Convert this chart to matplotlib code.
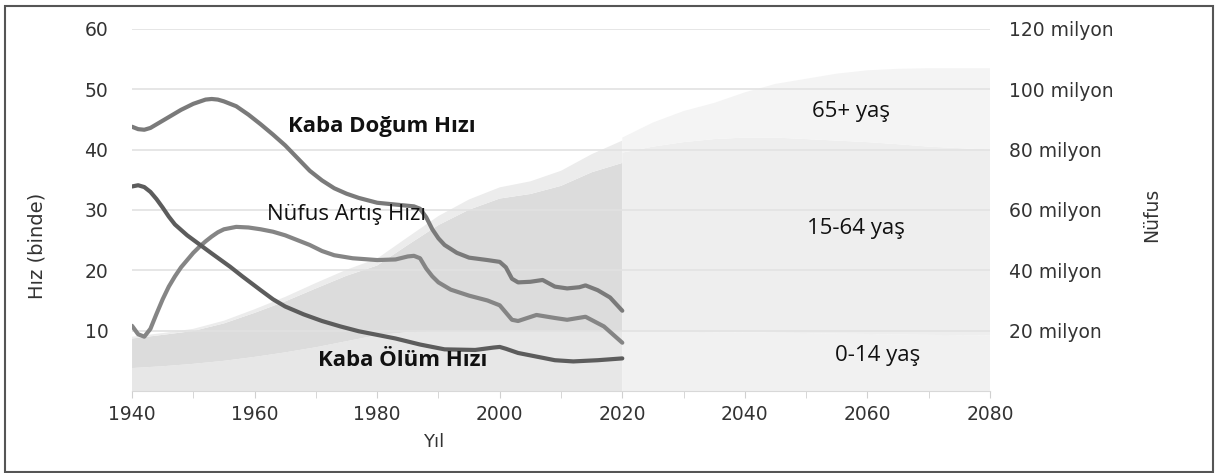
import numpy as np
import matplotlib
matplotlib.use("Agg")
import matplotlib.pyplot as plt
from matplotlib.patches import Rectangle

# --- rates (per thousand) ---
birth_years = [1940, 1941, 1942, 1943, 1944, 1946, 1948, 1950, 1952, 1953, 1954, 1955, 1957,
               1959, 1961, 1963, 1965, 1967, 1969, 1971, 1973, 1975, 1977, 1980, 1983, 1986,
               1987, 1988, 1989, 1990, 1991, 1993, 1995, 1998, 2000, 2001, 2002, 2003, 2005,
               2007, 2009, 2011, 2013, 2014, 2016, 2018, 2020]
birth_rate = [43.8, 43.4, 43.3, 43.6, 44.2, 45.4, 46.6, 47.6, 48.3, 48.4, 48.3, 48.0, 47.2,
              45.8, 44.2, 42.5, 40.7, 38.6, 36.5, 34.9, 33.6, 32.7, 32.0, 31.2, 30.9, 30.6,
              30.2, 28.8, 26.8, 25.3, 24.2, 22.9, 22.1, 21.7, 21.4, 20.5, 18.6, 18.0, 18.1,
              18.4, 17.3, 17.0, 17.2, 17.5, 16.7, 15.5, 13.3]

growth_years = [1940, 1941, 1942, 1943, 1944, 1945, 1946, 1947, 1948, 1949, 1950, 1951, 1952,
                1953, 1954, 1955, 1957, 1959, 1961, 1963, 1965, 1967, 1969, 1971, 1973, 1976,
                1980, 1983, 1985, 1986, 1987, 1988, 1989, 1990, 1992, 1995, 1998, 2000, 2001,
                2002, 2003, 2006, 2009, 2011, 2014, 2017, 2020]
growth_rate = [10.8, 9.4, 9.0, 10.3, 12.8, 15.2, 17.3, 19.0, 20.5, 21.7, 22.9, 23.9, 24.8,
               25.6, 26.3, 26.8, 27.2, 27.1, 26.8, 26.4, 25.8, 25.0, 24.2, 23.2, 22.5, 22.0,
               21.7, 21.8, 22.3, 22.4, 22.0, 20.3, 19.0, 18.0, 16.8, 15.8, 15.0, 14.2, 13.0,
               11.8, 11.6, 12.6, 12.1, 11.8, 12.3, 10.7, 8.0]

death_years = [1940, 1941, 1942, 1943, 1944, 1945, 1946, 1947, 1949, 1951, 1953, 1956, 1958,
               1961, 1963, 1965, 1968, 1971, 1974, 1977, 1980, 1983, 1987, 1991, 1996, 1999,
               2000, 2001, 2003, 2006, 2009, 2012, 2016, 2020]
death_rate = [33.9, 34.1, 33.8, 33.0, 31.8, 30.4, 28.9, 27.6, 25.8, 24.3, 22.8, 20.6, 19.0,
              16.7, 15.2, 14.0, 12.7, 11.6, 10.7, 9.9, 9.3, 8.7, 7.7, 6.9, 6.8, 7.2,
              7.3, 7.0, 6.3, 5.7, 5.1, 4.9, 5.1, 5.4]

# --- population by age group (million) ---
hist_years = [1940, 1945, 1950, 1955, 1960, 1965, 1970, 1975, 1980, 1985, 1990, 1995, 2000,
              2005, 2010, 2015, 2020]
hist_0_14 = [7.6, 8.2, 9.0, 10.0, 11.3, 12.8, 14.5, 16.5, 18.5, 19.5, 19.7, 19.7, 19.7,
             19.7, 19.7, 19.7, 19.7]
hist_15_64 = [9.8, 10.4, 10.9, 12.4, 14.6, 16.9, 19.5, 21.7, 23.1, 28.9, 35.3, 40.4, 44.1,
              45.6, 48.3, 52.8, 55.9]
hist_65 = [0.6, 0.6, 0.7, 0.9, 1.2, 1.5, 1.8, 2.0, 2.3, 2.6, 3.0, 3.4, 3.7, 4.2, 5.0, 6.0, 7.4]

proj_years = [2020, 2025, 2030, 2035, 2040, 2045, 2050, 2055, 2060, 2065, 2070, 2075, 2080]
proj_0_14 = [19.7, 19.7, 19.6, 19.5, 19.4, 19.3, 19.2, 19.0, 18.9, 18.7, 18.6, 18.5, 18.4]
proj_15_64 = [59.3, 61.3, 62.9, 64.0, 64.6, 64.7, 64.3, 64.0, 63.6, 63.1, 62.4, 62.0, 61.6]
proj_65 = [5.0, 8.0, 10.3, 12.0, 15.0, 17.8, 20.0, 22.2, 23.8, 25.0, 26.0, 26.5, 27.0]

rate_ticks = [10, 20, 30, 40, 50, 60]
pop_ticks = [20, 40, 60, 80, 100, 120]
pop_labels = ["20 milyon", "40 milyon", "60 milyon", "80 milyon", "100 milyon", "120 milyon"]

fig = plt.figure(figsize=(12.18, 4.73), dpi=100)
ax = fig.add_axes([0.1084, 0.1734, 0.7044, 0.7653])
ax2 = ax.twinx()

# population areas on the right axis, behind the rate lines
ax.set_zorder(2)
ax.patch.set_visible(False)
ax2.set_zorder(1)

ax2.stackplot(hist_years, hist_0_14, hist_15_64, hist_65,
              colors=["#e7e7e7", "#dcdcdc", "#ececec"], linewidth=0)
ax2.stackplot(proj_years, proj_0_14, proj_15_64, proj_65,
              colors=["#f1f1f1", "#eeeeee", "#f4f4f4"], linewidth=0)
ax2.set_ylim(0, 120)
ax2.set_yticks(pop_ticks)
ax2.set_yticklabels(pop_labels)
ax2.tick_params(axis="y", length=0, pad=14, labelsize=13.5, labelcolor="#333333")
ax2.set_ylabel("Nüfus", fontsize=13.5, color="#333333")
ax2.yaxis.set_label_coords(1.177, 0.486)

for y in rate_ticks:
    ax.axhline(y, color="#e2e2e2", lw=1.2, zorder=1)

ax.plot(birth_years, birth_rate, color="#7a7a7a", lw=3, zorder=3, solid_capstyle="round")
ax.plot(growth_years, growth_rate, color="#858585", lw=3, zorder=3, solid_capstyle="round")
ax.plot(death_years, death_rate, color="#5c5c5c", lw=3, zorder=3, solid_capstyle="round")

ax.set_xlim(1940, 2080)
ax.set_ylim(0, 60)
ax.set_yticks(rate_ticks)
ax.set_xticks(range(1940, 2081, 20))
ax.set_xticks(range(1950, 2080, 20), minor=True)
ax.tick_params(axis="y", length=0, pad=17, labelsize=13.5, labelcolor="#333333")
ax.tick_params(axis="x", which="both", length=5, color="#d0d0d0", pad=5,
               labelsize=13.5, labelcolor="#333333")
ax.set_xlabel("Yıl", fontsize=13, color="#333333")
ax.xaxis.set_label_coords(0.351, -0.115)
ax.set_ylabel("Hız (binde)", fontsize=14, color="#333333")
ax.yaxis.set_label_coords(-0.100, 0.40)

for a in (ax, ax2):
    for s in a.spines.values():
        s.set_visible(False)
ax.spines["bottom"].set_visible(True)
ax.spines["bottom"].set_color("#d8d8d8")

lab = dict(fontfamily="Open Sans", color="#111111", fontsize=16, zorder=4)
ax.text(1965.4, 43.9, "Kaba Doğum Hızı", fontweight="bold", va="center", **lab)
ax.text(1962.1, 29.2, "Nüfus Artış Hızı", va="center", **lab)
ax.text(1970.3, 5.1, "Kaba Ölüm Hızı", fontweight="bold", va="center", **lab)
ax.text(2050.9, 46.3, "65+ yaş", va="center", **lab)
ax.text(2050.1, 27.0, "15-64 yaş", va="center", **lab)
ax.text(2054.7, 5.8, "0-14 yaş", va="center", **lab)

fig.patches.append(Rectangle((0.004, 0.003), 0.992, 0.985, transform=fig.transFigure,
                             fill=False, edgecolor="#555555", lw=1.5))

fig.savefig("out.png", dpi=100)
